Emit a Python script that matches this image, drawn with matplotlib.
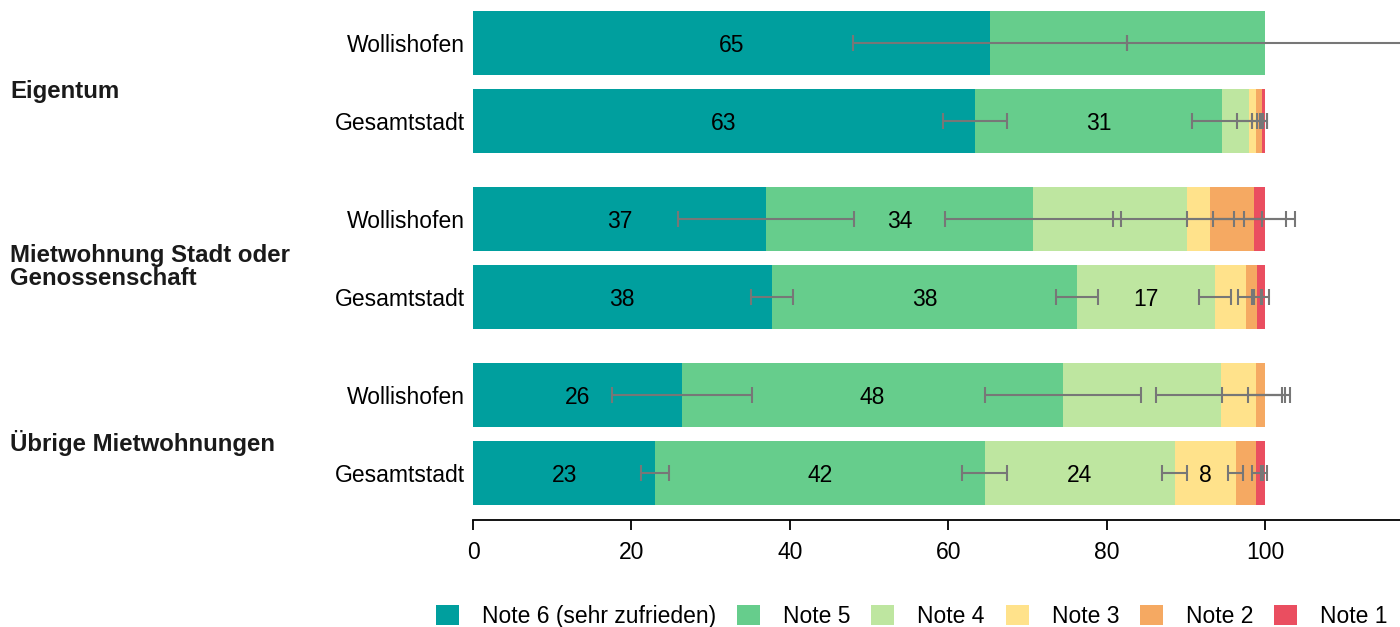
import numpy as np
import matplotlib
matplotlib.use("Agg")
import matplotlib.pyplot as plt
from matplotlib.patches import Patch
from matplotlib.transforms import blended_transform_factory

plt.rcParams['font.family'] = ['Liberation Sans', 'DejaVu Sans']

# # data (rows top to bottom)
groups     = ['Eigentum', 'Mietwohnung Stadt oder\nGenossenschaft', 'Übrige Mietwohnungen']
row_labels = ['Wollishofen', 'Gesamtstadt'] * 3

series = ['Note 6 (sehr zufrieden)', 'Note 5', 'Note 4', 'Note 3', 'Note 2', 'Note 1']
colors = ['#009f9e', '#66cd8c', '#bee6a0', '#ffe28b', '#f5a962', '#ea4e60']

note6 = [65.3, 63.4, 37.0, 37.7, 26.4, 23.0]
note5 = [34.7, 31.2, 33.7, 38.6, 48.1, 41.6]
note4 = [0.0, 3.4, 19.5, 17.4, 19.9, 24.0]
note3 = [0.0, 0.9, 2.9, 3.9, 4.5, 7.7]
note2 = [0.0, 0.7, 5.5, 1.4, 1.1, 2.6]
note1 = [0.0, 0.4, 1.4, 1.0, 0.0, 1.1]

# half width of confidence interval, nan = not shown
err6 = [17.3, 4.0, 11.1, 2.65, 8.8, 1.8]
err5 = [17.4, 3.8, 11.1, 2.65, 9.8, 2.8]
err4 = [np.nan, 1.5, 9.4, 2.0, 8.1, 1.6]
err3 = [np.nan, 0.5, 3.0, 1.0, 4.3, 0.95]
err2 = [np.nan, 0.6, 5.2, 0.6, 2.1, 0.6]
err1 = [np.nan, 0.3, 2.7, 0.5, np.nan, 0.3]

# value labels printed in the bars (None = no label)
lab6 = [65, 63, 37, 38, 26, 23]
lab5 = [None, 31, 34, 38, 48, 42]
lab4 = [None, None, None, 17, None, 24]
lab3 = [None, None, None, None, None, 8]
lab2 = [None] * 6
lab1 = [None] * 6

values = [note6, note5, note4, note3, note2, note1]
errors = [err6, err5, err4, err3, err2, err1]
labels = [lab6, lab5, lab4, lab3, lab2, lab1]

# y positions: two bars per group, bigger gap between groups
group_gap = 1.256
ypos = []
for g in range(len(groups)):
    ypos += [g * (1 + group_gap), g * (1 + group_gap) + 1]
ypos = np.asarray(ypos)

fig = plt.figure(figsize=(14, 6.27), dpi=100)
ax  = fig.add_axes([473/1400., (627-520)/627., 1 - 473/1400., 520/627.])

left = np.zeros(len(ypos))
for i in range(len(series)):
    v = np.asarray(values[i])
    ax.barh(ypos, v, left=left, height=0.81, color=colors[i], label=series[i], zorder=2)
    # labels at segment centre
    for j in range(len(ypos)):
        if labels[i][j] is not None:
            ax.text(left[j] + v[j]/2., ypos[j], str(labels[i][j]), ha='center', va='center_baseline',
                    fontsize=16.5, color='black', zorder=4)
    left = left + v
    # error bars sit at the cumulative end of each segment
    e = np.asarray(errors[i])
    m = ~np.isnan(e)
    ax.errorbar(left[m], ypos[m], xerr=e[m], fmt='none', ecolor='#777777', elinewidth=1.5,
                capsize=5.8, capthick=1.5, zorder=3)

ax.set_xlim(0, 117.05)
ax.set_ylim(ypos[-1] + 0.603, -0.55)
ax.set_xticks([0, 20, 40, 60, 80, 100])
ax.set_yticks(ypos)
ax.set_yticklabels(row_labels)
ax.tick_params(axis='y', length=0, pad=5.5, labelsize=16.5)
ax.tick_params(axis='x', length=7, width=1.3, pad=8, labelsize=16.5)
for s in ['top', 'right', 'left']:
    ax.spines[s].set_visible(False)
ax.spines['bottom'].set_linewidth(1.3)

# group labels on the far left
trans = blended_transform_factory(fig.transFigure, ax.transData)
for g in range(len(groups)):
    ymid = (ypos[2*g] + ypos[2*g+1]) / 2. + 0.12
    ax.text(10/1400., ymid, groups[g], transform=trans, ha='left', va='center',
            fontsize=17.3, fontweight='bold', color='#1a1a1a', linespacing=1.0)

handles = [Patch(facecolor=colors[i], edgecolor='none', label=series[i]) for i in range(len(series))]
fig.legend(handles=handles, loc='lower right', bbox_to_anchor=(1.006, -0.034), ncol=6, frameon=False,
           fontsize=16.5, handlelength=1.0, handleheight=1.0, handletextpad=1.0, columnspacing=0.92)

fig.savefig('out.png', dpi=100)
